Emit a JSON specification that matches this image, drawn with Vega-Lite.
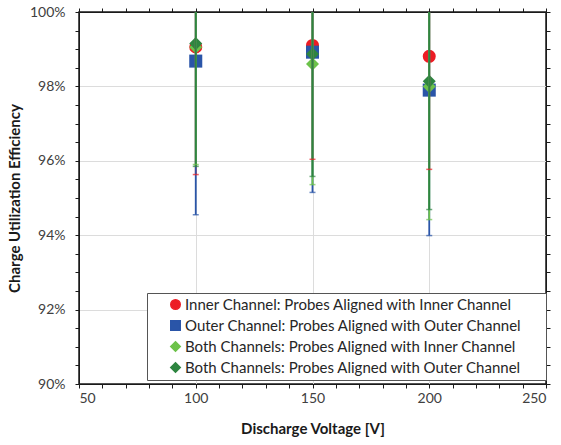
{
  "$schema": "https://vega.github.io/schema/vega-lite/v6.json",
  "width": 467,
  "height": 372,
  "autosize": {"type": "none"},
  "padding": {"left": 79, "top": 12, "right": 15, "bottom": 61},
  "background": "white",
  "config": {
    "font": "Lato",
    "view": {"stroke": "#1a1a1a", "strokeWidth": 1.5},
    "axis": {"labelFont": "Lato", "titleFont": "Lato", "labelColor": "#404040", "tickColor": "#1a1a1a", "domainColor": "#1a1a1a", "gridColor": "#dcdcdc"}
  },
  "data": {
    "values": [
      {"series": "Inner Channel: Probes Aligned with Inner Channel", "v": 100, "y": 99.06, "lo": 95.63, "hi": 102.49},
      {"series": "Inner Channel: Probes Aligned with Inner Channel", "v": 150, "y": 99.10, "lo": 96.04, "hi": 102.16},
      {"series": "Inner Channel: Probes Aligned with Inner Channel", "v": 200, "y": 98.81, "lo": 95.77, "hi": 101.85},
      {"series": "Outer Channel: Probes Aligned with Outer Channel", "v": 100, "y": 98.68, "lo": 94.55, "hi": 102.81},
      {"series": "Outer Channel: Probes Aligned with Outer Channel", "v": 150, "y": 98.92, "lo": 95.15, "hi": 102.69},
      {"series": "Outer Channel: Probes Aligned with Outer Channel", "v": 200, "y": 97.90, "lo": 93.99, "hi": 101.81},
      {"series": "Both Channels: Probes Aligned with Inner Channel", "v": 100, "y": 99.05, "lo": 95.90, "hi": 102.20},
      {"series": "Both Channels: Probes Aligned with Inner Channel", "v": 150, "y": 98.60, "lo": 95.36, "hi": 101.84},
      {"series": "Both Channels: Probes Aligned with Inner Channel", "v": 200, "y": 98.00, "lo": 94.42, "hi": 101.58},
      {"series": "Both Channels: Probes Aligned with Outer Channel", "v": 100, "y": 99.15, "lo": 95.85, "hi": 102.45},
      {"series": "Both Channels: Probes Aligned with Outer Channel", "v": 150, "y": 98.87, "lo": 95.58, "hi": 102.16},
      {"series": "Both Channels: Probes Aligned with Outer Channel", "v": 200, "y": 98.14, "lo": 94.69, "hi": 101.59}
    ]
  },
  "resolve": {"axis": {"x": "independent", "y": "independent"}},
  "layer": [
    {
      "mark": {"type": "point", "filled": true, "opacity": 1, "size": 170, "clip": true},
      "encoding": {
        "x": {"field": "v", "type": "quantitative", "scale": {"domain": [50, 250], "nice": false, "zero": false},
          "axis": {"values": [50,60,70,80,90,100,110,120,130,140,150,160,170,180,190,200,210,220,230,240,250],
            "labelExpr": "datum.value % 50 == 0 ? datum.value : ''",
            "gridOpacity": {"condition": {"test": "datum.value % 50 == 0", "value": 1}, "value": 0},
            "grid": true, "tickSize": 4, "labelPadding": 3, "labelFontSize": 14, "title": "Discharge Voltage [V]",
            "titleFontSize": 15, "titleFontWeight": "bold", "titleColor": "#1a1a1a", "titlePadding": 16, "domain": true}},
        "y": {"field": "y", "type": "quantitative", "scale": {"domain": [90, 100], "nice": false, "zero": false},
          "axis": {"values": [90,90.5,91,91.5,92,92.5,93,93.5,94,94.5,95,95.5,96,96.5,97,97.5,98,98.5,99,99.5,100],
            "labelExpr": "datum.value % 2 == 0 ? datum.value + '%' : ''",
            "gridOpacity": {"condition": {"test": "datum.value % 2 == 0", "value": 1}, "value": 0},
            "grid": true, "tickSize": 4, "labelPadding": 10, "labelFontSize": 14, "title": "Charge Utilization Efficiency",
            "titleFontSize": 15, "titleFontWeight": "bold", "titleColor": "#1a1a1a", "titlePadding": 7}},
        "color": {"field": "series", "type": "nominal",
          "scale": {"domain": ["Inner Channel: Probes Aligned with Inner Channel", "Outer Channel: Probes Aligned with Outer Channel", "Both Channels: Probes Aligned with Inner Channel", "Both Channels: Probes Aligned with Outer Channel"],
            "range": ["#ec1c24", "#2a55a8", "#6cc24a", "#2e8540"]},
          "legend": {"orient": "none", "legendX": 68, "legendY": 281, "title": null, "labelFontSize": 15, "labelColor": "#262626",
            "labelExpr": "datum.label + '\u00a0\u00a0\u00a0\u00a0\u00a0\u200b'",
            "labelLimit": 500, "fillColor": "white", "strokeColor": "#555555", "padding": 4, "symbolOffset": 17, "rowPadding": 4, "symbolSize": 90, "labelOffset": 2}},
        "shape": {"field": "series", "type": "nominal",
          "scale": {"domain": ["Inner Channel: Probes Aligned with Inner Channel", "Outer Channel: Probes Aligned with Outer Channel", "Both Channels: Probes Aligned with Inner Channel", "Both Channels: Probes Aligned with Outer Channel"],
            "range": ["circle", "square", "diamond", "diamond"]}}
      }
    },
    {
      "mark": {"type": "rule", "strokeWidth": 1.8, "clip": true},
      "encoding": {
        "x": {"field": "v", "type": "quantitative", "axis": null},
        "y": {"field": "lo", "type": "quantitative", "axis": null},
        "y2": {"field": "hi"},
        "color": {"field": "series", "type": "nominal", "legend": null}
      }
    },
    {
      "mark": {"type": "tick", "orient": "horizontal", "size": 6, "thickness": 1.5, "clip": true},
      "encoding": {
        "x": {"field": "v", "type": "quantitative", "axis": null},
        "y": {"field": "lo", "type": "quantitative", "axis": null},
        "color": {"field": "series", "type": "nominal", "legend": null}
      }
    },
    {
      "mark": {"type": "rule", "opacity": 0},
      "encoding": {
        "x": {"field": "v", "type": "quantitative",
          "axis": {"orient": "top", "values": [50,60,70,80,90,100,110,120,130,140,150,160,170,180,190,200,210,220,230,240,250], "labels": false, "grid": false, "tickSize": 4, "title": null}},
        "y": {"field": "y", "type": "quantitative",
          "axis": {"orient": "right", "values": [90,90.5,91,91.5,92,92.5,93,93.5,94,94.5,95,95.5,96,96.5,97,97.5,98,98.5,99,99.5,100], "labels": false, "grid": false, "tickSize": 4, "title": null}}
      }
    }
  ]
}
